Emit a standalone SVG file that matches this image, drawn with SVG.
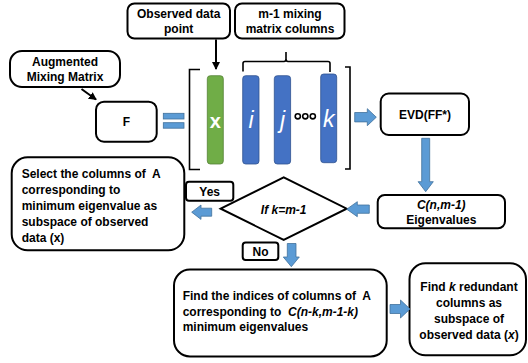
<svg xmlns="http://www.w3.org/2000/svg" width="528" height="363" viewBox="0 0 528 363">
<style>
.box{fill:#fff;stroke:#000;stroke-width:2}
.t{font-family:"Liberation Sans",Arial,sans-serif;font-weight:bold;font-size:12px;fill:#000}
.c{text-anchor:middle}
.it{font-style:italic}
.blk{fill:#5b9bd5;stroke:#41719c;stroke-width:0.8}
.br{fill:none;stroke:#000;stroke-width:1.6}
.bar{stroke-width:0.8}
.w{font-family:"Liberation Sans",Arial,sans-serif;fill:#fff;text-anchor:middle}
</style>
<defs>
<marker id="ah" markerWidth="8" markerHeight="8" refX="7" refY="4" orient="auto" markerUnits="userSpaceOnUse">
<path d="M0,0 L8,4 L0,8 z" fill="#000"/>
</marker>
</defs>

<g id="observed">
<rect class="box" x="127.5" y="3.5" width="102.5" height="35" rx="7"/>
<text class="t c" x="178.7" y="17.5">Observed data</text>
<text class="t c" x="178.7" y="33">point</text>
</g>

<g id="mixing-cols">
<rect class="box" x="235" y="3.5" width="109.5" height="35" rx="7"/>
<text class="t c" x="290" y="17.5">m-1 mixing</text>
<text class="t c" x="290" y="33">matrix columns</text>
</g>

<g id="augmented">
<rect class="box" x="10" y="51" width="110" height="36" rx="12"/>
<text class="t c" x="65" y="65.5">Augmented</text>
<text class="t c" x="65" y="81">Mixing Matrix</text>
</g>

<g id="F">
<rect class="box" x="96" y="101.7" width="60.7" height="40" rx="8"/>
<text class="t c" x="126.3" y="126">F</text>
</g>

<g id="equals">
<rect class="blk" x="163.3" y="113.3" width="20.7" height="5.7"/>
<rect class="blk" x="163.3" y="122.7" width="20.7" height="5.5"/>
</g>

<g id="matrix">
<path class="br" d="M200,69.5 H189.5 V169.5 H200"/>
<path class="br" d="M345,67 H350 V169 H345"/>
<path class="br" d="M243,71.5 V63.5 Q243,61.5 245,61.5 H284 Q286,61.5 286,59 V52 M286,59 Q286,61.5 288,61.5 H328 Q330,61.5 330,63.5 V72"/>
<rect class="bar" x="207.3" y="75.7" width="16" height="88.3" rx="3" fill="#70ad47" stroke="#548235"/>
<rect class="bar" x="242.7" y="75.7" width="16.3" height="88.3" rx="3" fill="#4472c4" stroke="#2f528f"/>
<rect class="bar" x="274.3" y="75.7" width="16.3" height="88.3" rx="3" fill="#4472c4" stroke="#2f528f"/>
<rect class="bar" x="320.7" y="74" width="16" height="88.7" rx="3" fill="#4472c4" stroke="#2f528f"/>
<text class="w" x="215.3" y="127.5" font-size="20" font-weight="bold">x</text>
<text class="w" x="251" y="128" font-size="23" font-style="italic">i</text>
<text class="w" x="282.5" y="128" font-size="23" font-style="italic">j</text>
<text class="w" x="328.7" y="127" font-size="23" font-style="italic">k</text>
<circle cx="297.8" cy="116.3" r="2.6" fill="#fff" stroke="#000" stroke-width="1.6"/>
<circle cx="305.3" cy="116.3" r="2.6" fill="#fff" stroke="#000" stroke-width="1.6"/>
<circle cx="312.8" cy="116.3" r="2.6" fill="#fff" stroke="#000" stroke-width="1.6"/>
</g>

<g id="evd">
<rect class="box" x="380.7" y="93.5" width="88.3" height="41.5" rx="8"/>
<text class="t c" x="425" y="118.5">EVD(FF*)</text>
</g>

<g id="cnm">
<rect class="box" x="377.7" y="195" width="127.3" height="33.3" rx="7"/>
<text class="t c it" x="441.3" y="209">C(n,m-1)</text>
<text class="t c" x="441.3" y="224">Eigenvalues</text>
</g>

<g id="decision">
<polygon points="220.7,208.7 283.7,177.3 346.7,208.7 283.7,240" fill="#fff" stroke="#000" stroke-width="2"/>
<text class="t c it" x="283.7" y="213.5">If k=m-1</text>
</g>

<g id="yes">
<rect class="box" x="186" y="181.7" width="47.3" height="19" rx="3"/>
<text class="t c" x="209.7" y="196">Yes</text>
</g>

<g id="no">
<rect class="box" x="242.7" y="242.5" width="35.6" height="17.5" rx="3"/>
<text class="t c" x="260.5" y="256">No</text>
</g>

<g id="select">
<rect class="box" x="11.7" y="157.3" width="172.6" height="93" rx="16"/>
<text class="t" x="21.7" y="177.5">Select the columns of&#160; A</text>
<text class="t" x="21.7" y="193.7">corresponding to</text>
<text class="t" x="21.7" y="209.9">minimum eigenvalue as</text>
<text class="t" x="21.7" y="226.1">subspace of observed</text>
<text class="t" x="21.7" y="242.3">data (x)</text>
</g>

<g id="find-indices">
<rect class="box" x="174" y="269.5" width="212.7" height="87" rx="16"/>
<text class="t" x="182.7" y="300">Find the indices of columns of&#160; A</text>
<text class="t" x="182.7" y="315.5">corresponding to&#160; <tspan font-style="italic">C(n-k,m-1-k)</tspan></text>
<text class="t" x="182.7" y="331">minimum eigenvalues</text>
</g>

<g id="find-k">
<rect class="box" x="409.5" y="263.3" width="116.5" height="92" rx="16"/>
<text class="t c" x="469" y="290.5">Find <tspan font-style="italic">k</tspan> redundant</text>
<text class="t c" x="469" y="306.5">columns as</text>
<text class="t c" x="469" y="322.5">subspace of</text>
<text class="t c" x="469" y="339">observed data (<tspan font-style="italic">x</tspan>)</text>
</g>

<g id="connectors">
<line x1="216" y1="39.5" x2="216" y2="69" stroke="#000" stroke-width="2" marker-end="url(#ah)"/>
<line x1="81.5" y1="89" x2="96" y2="99.5" stroke="#000" stroke-width="2" marker-end="url(#ah)"/>
<polygon class="blk" points="354.7,112.5 367.3,112.5 367.3,108.7 376.3,117.2 367.3,125.7 367.3,121.9 354.7,121.9"/>
<polygon class="blk" points="421.7,138.3 429.7,138.3 429.7,181.7 433.3,181.7 425.7,191.7 418.1,181.7 421.7,181.7"/>
<polygon class="blk" points="369.3,205 357.3,205 357.3,201.7 346.7,209.2 357.3,216.7 357.3,213.3 369.3,213.3"/>
<polygon class="blk" points="211.7,208.2 201,208.2 201,205 191.7,212.2 201,219.4 201,216.2 211.7,216.2"/>
<polygon class="blk" points="287.3,243.5 296,243.5 296,257 299.3,257 291.3,266.7 283.3,257 287.3,257"/>
<polygon class="blk" points="390,304.5 400.5,304.5 400.5,300 410,309 400.5,318 400.5,313.5 390,313.5"/>
</g>
</svg>
